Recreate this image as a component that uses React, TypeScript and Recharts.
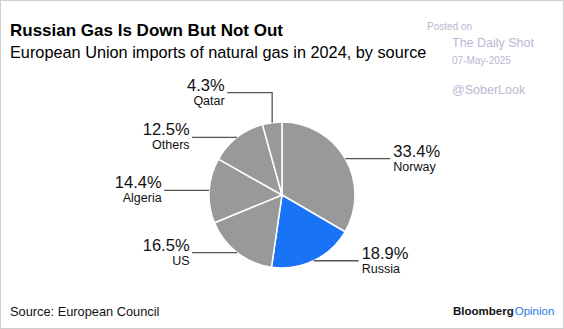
import React from 'react';
import { PieChart, Pie, Cell } from 'recharts';

const categories = ['Norway', 'Russia', 'US', 'Algeria', 'Others', 'Qatar'];
const shares = [33.4, 18.9, 16.5, 14.4, 12.5, 4.3];
const highlighted = 'Russia';

const title = 'Russian Gas Is Down But Not Out';
const subtitle = 'European Union imports of natural gas in 2024, by source';
const source = 'Source: European Council';

const data = categories.map((name, i) => ({ name, value: shares[i] }));

const FONT = '"Liberation Sans", Arial, sans-serif';
const GRAY = '#999999';
const BLUE = '#1873f7';
const RAD = Math.PI / 180;

const renderLabel = (props: any) => {
  const { cx, cy, midAngle, outerRadius, index, value, name } = props;
  const ax = cx + outerRadius * Math.cos(-midAngle * RAD);
  const ay = cy + outerRadius * Math.sin(-midAngle * RAD);
  const len = 45;
  let points: string;
  let lx: number;
  let ly: number;
  let right: boolean;
  if (Math.abs(ax - cx) < 20 && ay < cy) {
    ly = ay - 30;
    lx = ax - len;
    points = `${ax},${ay} ${ax},${ly} ${lx},${ly}`;
    right = false;
  } else {
    right = ax > cx;
    ly = ay;
    lx = right ? ax + len : ax - len;
    points = `${ax},${ay} ${lx},${ly}`;
  }
  const tx = right ? lx + 3 : lx - 2.5;
  const anchor = right ? 'start' : 'end';
  return (
    <g key={`lbl-${index}`}>
      <polyline points={points} fill="none" stroke="#555" strokeWidth={1.3} />
      <text x={tx} y={ly - 2} textAnchor={anchor} fontSize={16.5} fill="#111" fontFamily={FONT}>
        {`${Number(value).toFixed(1)}%`}
      </text>
      <text x={tx} y={ly + 12} textAnchor={anchor} fontSize={12.5} fill="#111" fontFamily={FONT}>
        {name}
      </text>
    </g>
  );
};

export default function App() {
  return (
    <div
      style={{
        position: 'absolute',
        left: 0,
        top: 0,
        width: 564,
        height: 329,
        background: '#fff',
        boxSizing: 'border-box',
        border: '1px solid #cfcfcf',
        overflow: 'hidden',
      }}
    >
      <div style={{ position: 'absolute', left: -1, top: -1 }}>
        <PieChart width={564} height={329} margin={{ top: 0, right: 0, bottom: 0, left: 0 }}>
          <Pie
            data={data}
            dataKey="value"
            nameKey="name"
            cx={282}
            cy={195}
            outerRadius={73}
            startAngle={90}
            endAngle={-270}
            stroke="#fff"
            strokeWidth={1.5}
            labelLine={false}
            label={renderLabel}
            isAnimationActive={false}
          >
            {data.map((d) => (
              <Cell key={d.name} fill={d.name === highlighted ? BLUE : GRAY} />
            ))}
          </Pie>
        </PieChart>
      </div>
      <svg
        width={564}
        height={329}
        style={{ position: 'absolute', left: -1, top: -1, pointerEvents: 'none' }}
      >
        <text x={10} y={36} fontSize={17} fontWeight="bold" fill="#000" fontFamily={FONT}>
          {title}
        </text>
        <text x={10} y={57.5} fontSize={16.3} fill="#000" fontFamily={FONT}>
          {subtitle}
        </text>
        <text x={427} y={30} fontSize={10} fill="#b8b8d2" fontFamily={FONT}>Posted on</text>
        <text x={452} y={46.5} fontSize={12.5} fill="#b8b8d2" fontFamily={FONT}>The Daily Shot</text>
        <text x={452} y={63.5} fontSize={10} fill="#b8b8d2" fontFamily={FONT}>07-May-2025</text>
        <text x={452} y={93.5} fontSize={12.5} fill="#b8b8d2" fontFamily={FONT}>@SoberLook</text>
        <text x={10} y={316} fontSize={12.8} fill="#111" fontFamily={FONT}>
          {source}
        </text>
        <text x={453} y={315} fontSize={11.5} fontFamily={FONT}>
          <tspan fontWeight="bold" fill="#111">Bloomberg</tspan>
          <tspan fill="#2b7be4" dx={1}>Opinion</tspan>
        </text>
      </svg>
    </div>
  );
}
